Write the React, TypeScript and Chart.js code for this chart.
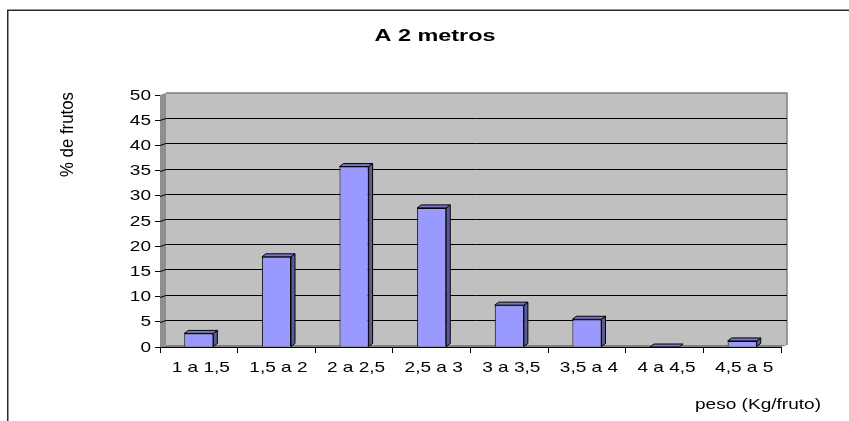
import React, { useEffect, useRef } from "react";
import { Chart, registerables } from "chart.js";

Chart.register(...registerables);

// Fruit weight classes (kg per fruit) and the share of fruits in each class
const categories = ["1 a 1,5", "1,5 a 2", "2 a 2,5", "2,5 a 3", "3 a 3,5", "3,5 a 4", "4 a 4,5", "4,5 a 5"];
const percentFrutos = [2.7, 17.9, 35.8, 27.6, 8.3, 5.5, 0, 1.2];

const chartTitle = "A 2 metros";
const yTitle = "% de frutos";
const xTitle = "peso (Kg/fruto)";

const FONT = "'Liberation Sans', Arial, sans-serif";
const TEXT_STRETCH = 1.27; // labels are drawn horizontally widened
const WALL_DX = 6;
const WALL_DY = 2;
const BAR_DX = 4;
const BAR_DY = 3;

function poly(ctx: CanvasRenderingContext2D, pts: number[][], fill: string, stroke?: string) {
  ctx.beginPath();
  ctx.moveTo(pts[0][0], pts[0][1]);
  for (let i = 1; i < pts.length; i++) ctx.lineTo(pts[i][0], pts[i][1]);
  ctx.closePath();
  ctx.fillStyle = fill;
  ctx.fill();
  if (stroke) {
    ctx.strokeStyle = stroke;
    ctx.lineWidth = 1;
    ctx.stroke();
  }
}

function stretchedText(
  ctx: CanvasRenderingContext2D,
  text: string,
  x: number,
  y: number,
  font: string,
  align: CanvasTextAlign,
  baseline: CanvasTextBaseline,
  sx: number
) {
  ctx.save();
  ctx.translate(x, y);
  ctx.scale(sx, 1);
  ctx.font = font;
  ctx.textAlign = align;
  ctx.textBaseline = baseline;
  ctx.fillStyle = "#000";
  ctx.fillText(text, 0, 0);
  ctx.restore();
}

// Back wall, side wall, floor and gridlines of the 3-D column look
const wallPlugin = {
  id: "wall3d",
  beforeDatasetsDraw(chart: any) {
    const { ctx, chartArea, scales } = chart;
    const { left, right, top, bottom } = chartArea;
    ctx.save();
    // frame around the whole chart
    ctx.strokeStyle = "#2b2b2b";
    ctx.lineWidth = 1.5;
    ctx.beginPath();
    ctx.moveTo(7.75, 421);
    ctx.lineTo(7.75, 10.25);
    ctx.lineTo(849, 10.25);
    ctx.stroke();

    // side wall
    poly(ctx, [[left, top], [left + WALL_DX, top - WALL_DY], [left + WALL_DX, bottom - WALL_DY], [left, bottom]], "#8f8f8f");
    // floor
    poly(ctx, [[left, bottom], [left + WALL_DX, bottom - WALL_DY], [right + WALL_DX, bottom - WALL_DY], [right, bottom]], "#808080");
    // back wall
    ctx.fillStyle = "#C0C0C0";
    ctx.fillRect(left + WALL_DX, top - WALL_DY, right - left, bottom - top);
    ctx.strokeStyle = "#808080";
    ctx.lineWidth = 1.5;
    ctx.beginPath();
    ctx.moveTo(left + WALL_DX, top - WALL_DY);
    ctx.lineTo(right + WALL_DX, top - WALL_DY);
    ctx.lineTo(right + WALL_DX, bottom - WALL_DY);
    ctx.stroke();

    // horizontal gridlines
    const y = scales.y;
    ctx.strokeStyle = "#000";
    ctx.lineWidth = 1;
    y.ticks.forEach((t: any) => {
      if (t.value <= 0 || t.value >= 50) return;
      const py = Math.round(y.getPixelForValue(t.value)) + 0.5;
      ctx.beginPath();
      ctx.moveTo(left, py);
      ctx.lineTo(left + WALL_DX, py - WALL_DY);
      ctx.lineTo(right + WALL_DX, py - WALL_DY);
      ctx.stroke();
    });
    ctx.restore();
  },
  afterDatasetsDraw(chart: any) {
    const { ctx } = chart;
    const meta = chart.getDatasetMeta(0);
    ctx.save();
    meta.data.forEach((bar: any) => {
      const { x, y, base, width } = bar.getProps(["x", "y", "base", "width"], true);
      const l = x - width / 2;
      const r = x + width / 2;
      // right side face
      if (base - y > 0.5) {
        poly(ctx, [[r, y], [r + BAR_DX, y - BAR_DY], [r + BAR_DX, base - BAR_DY], [r, base]], "#5c5c94", "#000");
      }
      // top face
      poly(ctx, [[l, y], [l + BAR_DX, y - BAR_DY], [r + BAR_DX, y - BAR_DY], [r, y]], "#7777c4", "#000");
    });
    ctx.restore();
  },
  afterDraw(chart: any) {
    const { ctx, scales, chartArea } = chart;
    const tickFont = `15px ${FONT}`;
    // value axis labels
    scales.y.ticks.forEach((t: any) => {
      const py = scales.y.getPixelForValue(t.value);
      stretchedText(ctx, String(t.value), 151, py + 0.5, tickFont, "right", "middle", TEXT_STRETCH);
    });
    // category labels
    categories.forEach((c, i) => {
      const px = scales.x.getPixelForValue(i) + 2;
      stretchedText(ctx, c, px, chartArea.bottom + 21, tickFont, "center", "middle", TEXT_STRETCH);
    });
    // chart title
    stretchedText(ctx, chartTitle, 435, 36, `bold 16.5px ${FONT}`, "center", "middle", 1.42);
    // axis titles
    stretchedText(ctx, xTitle, 821, 405, tickFont, "right", "middle", TEXT_STRETCH);
    ctx.save();
    ctx.translate(73, 177);
    ctx.scale(1.06, 1);
    ctx.rotate(-Math.PI / 2);
    ctx.font = `16.8px ${FONT}`;
    ctx.textAlign = "left";
    ctx.textBaseline = "alphabetic";
    ctx.fillStyle = "#000";
    ctx.fillText(yTitle, 0, 0);
    ctx.restore();
  },
};

export default function App() {
  const canvasRef = useRef<HTMLCanvasElement | null>(null);

  useEffect(() => {
    const canvas = canvasRef.current;
    if (!canvas) return;
    const chart = new Chart(canvas, {
      type: "bar",
      data: {
        labels: categories,
        datasets: [
          {
            data: percentFrutos,
            backgroundColor: "#9999FF",
            borderColor: "#000",
            borderWidth: 1,
            categoryPercentage: 1,
            barPercentage: 0.375,
          },
        ],
      },
      options: {
        animation: false,
        responsive: false,
        devicePixelRatio: 1,
        layout: { padding: { top: 95, left: 0, right: 68, bottom: 34 } },
        plugins: { legend: { display: false }, title: { display: false }, tooltip: { enabled: false } },
        scales: {
          x: {
            afterFit: (s: any) => { s.height = 40; },
            ticks: { display: false },
            grid: { drawOnChartArea: false, drawTicks: true, tickLength: 6, color: "#000", offset: true },
            border: { display: true, color: "#000", width: 1 },
          },
          y: {
            min: 0,
            max: 50,
            afterFit: (s: any) => { s.width = 160; },
            ticks: { display: false, stepSize: 5 },
            grid: { drawOnChartArea: false, drawTicks: true, tickLength: 5, color: "#000" },
            border: { display: true, color: "#000", width: 1 },
          },
        },
      },
      plugins: [wallPlugin],
    });
    return () => chart.destroy();
  }, []);

  return (
    <div style={{ position: "fixed", left: 0, top: 0, width: 849, height: 421, background: "#fff" }}>
      <canvas ref={canvasRef} width={849} height={421} style={{ display: "block" }} />
    </div>
  );
}
